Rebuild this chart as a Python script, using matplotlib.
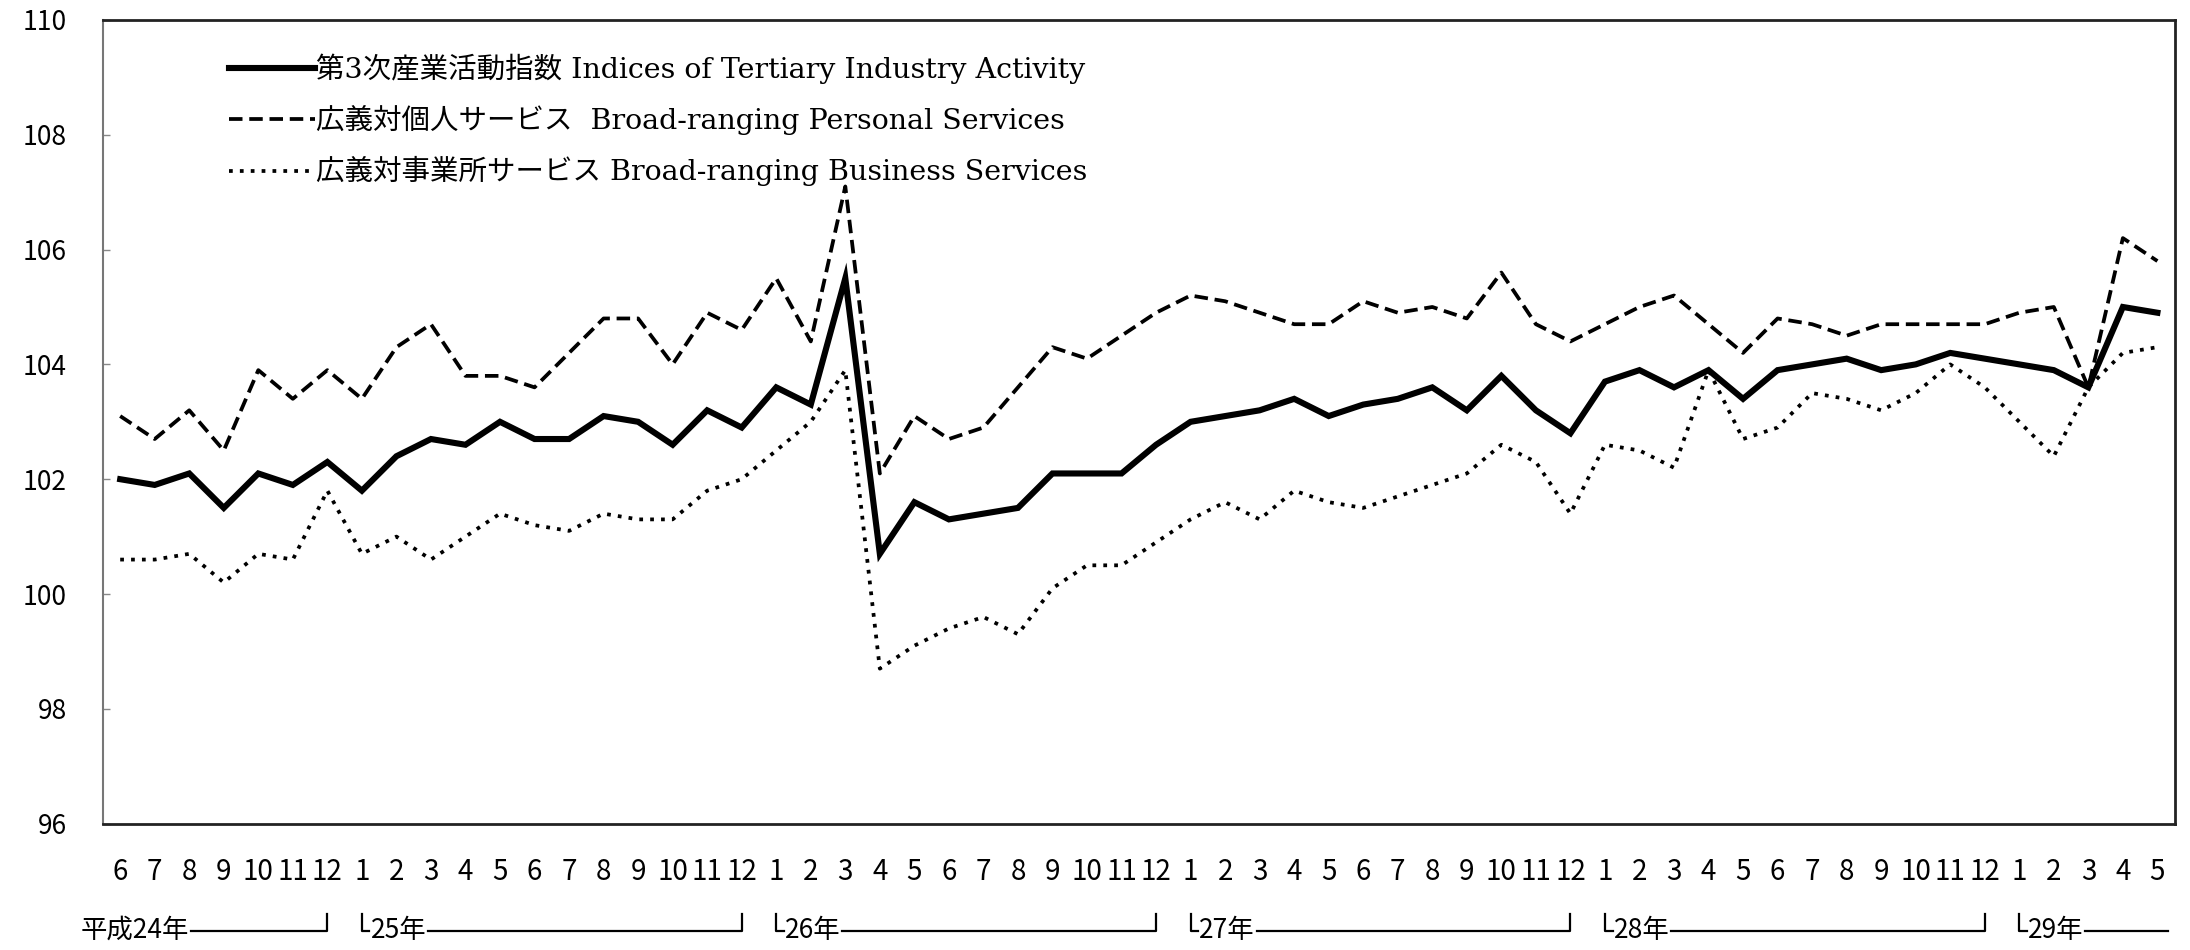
import matplotlib
matplotlib.use("Agg")
import matplotlib.pyplot as plt
import matplotlib.transforms as mtransforms

plt.rcParams["font.family"] = ["Noto Sans CJK JP", "DejaVu Sans"]

# months shown on the x axis (H24.6 - H29.5)
months = [6, 7, 8, 9, 10, 11, 12] + list(range(1, 13)) * 4 + [1, 2, 3, 4, 5]
month_labels = [str(m) for m in months]

# (label, first index, last index) of each Heisei year
years = [("平成24年", 0, 6), ("25年", 7, 18), ("26年", 19, 30),
         ("27年", 31, 42), ("28年", 43, 54), ("29年", 55, 59)]

tertiary = [102.0, 101.9, 102.1, 101.5, 102.1, 101.9, 102.3,
            101.8, 102.4, 102.7, 102.6, 103.0, 102.7, 102.7, 103.1, 103.0, 102.6, 103.2, 102.9,
            103.6, 103.3, 105.5, 100.7, 101.6, 101.3, 101.4, 101.5, 102.1, 102.1, 102.1, 102.6,
            103.0, 103.1, 103.2, 103.4, 103.1, 103.3, 103.4, 103.6, 103.2, 103.8, 103.2, 102.8,
            103.7, 103.9, 103.6, 103.9, 103.4, 103.9, 104.0, 104.1, 103.9, 104.0, 104.2, 104.1,
            104.0, 103.9, 103.6, 105.0, 104.9]
personal = [103.1, 102.7, 103.2, 102.5, 103.9, 103.4, 103.9,
            103.4, 104.3, 104.7, 103.8, 103.8, 103.6, 104.2, 104.8, 104.8, 104.0, 104.9, 104.6,
            105.5, 104.4, 107.1, 102.1, 103.1, 102.7, 102.9, 103.6, 104.3, 104.1, 104.5, 104.9,
            105.2, 105.1, 104.9, 104.7, 104.7, 105.1, 104.9, 105.0, 104.8, 105.6, 104.7, 104.4,
            104.7, 105.0, 105.2, 104.7, 104.2, 104.8, 104.7, 104.5, 104.7, 104.7, 104.7, 104.7,
            104.9, 105.0, 103.6, 106.2, 105.8]
business = [100.6, 100.6, 100.7, 100.2, 100.7, 100.6, 101.8,
            100.7, 101.0, 100.6, 101.0, 101.4, 101.2, 101.1, 101.4, 101.3, 101.3, 101.8, 102.0,
            102.5, 103.0, 103.9, 98.7, 99.1, 99.4, 99.6, 99.3, 100.1, 100.5, 100.5, 100.9,
            101.3, 101.6, 101.3, 101.8, 101.6, 101.5, 101.7, 101.9, 102.1, 102.6, 102.3, 101.4,
            102.6, 102.5, 102.2, 103.9, 102.7, 102.9, 103.5, 103.4, 103.2, 103.5, 104.0, 103.6,
            103.0, 102.4, 103.6, 104.2, 104.3]

labels = ["第3次産業活動指数 Indices of Tertiary Industry Activity",
          "広義対個人サービス  Broad-ranging Personal Services",
          "広義対事業所サービス Broad-ranging Business Services"]

fig = plt.figure(figsize=(21.9, 9.5), dpi=100)
ax = fig.add_axes([0.047, 0.133, 0.946, 0.846])

x = list(range(len(months)))
ax.plot(x, tertiary, color="black", lw=4.4, solid_joinstyle="miter", label=labels[0])
ax.plot(x, personal, color="black", lw=2.7, dashes=(3.6, 1.8), dash_capstyle="butt", label=labels[1])
ax.plot(x, business, color="black", lw=2.7, dashes=(1.0, 1.9), dash_capstyle="butt", label=labels[2])

ax.set_xlim(-0.5, len(months) - 0.5)
ax.set_ylim(96, 110)
ax.set_yticks(range(96, 111, 2))
ax.tick_params(axis="y", direction="in", length=5, width=1, color="#888888",
               labelsize=19, pad=26)
ax.set_xticks(x)
ax.set_xticklabels(month_labels)
ax.tick_params(axis="x", length=0, labelsize=20, pad=24)

for side in ["top", "right", "bottom"]:
    ax.spines[side].set_linewidth(2)
    ax.spines[side].set_color("#222222")
ax.spines["left"].set_linewidth(1.5)
ax.spines["left"].set_color("#777777")

leg = ax.legend(loc="upper left", bbox_to_anchor=(0.061, 0.958), frameon=False,
                handlelength=3.0, handletextpad=0.05, labelspacing=0.74,
                borderpad=0, borderaxespad=0,
                prop={"family": ["DejaVu Serif", "Noto Sans CJK JP"], "size": 20.5})

# year row under the month labels
trans = mtransforms.blended_transform_factory(ax.transData, ax.transAxes)
y_row = -0.133
tick_h = 0.02
fig.canvas.draw()
inv = ax.transData.inverted()
for name, i0, i1 in years:
    if i0 == 0:
        tx = -1.15
    else:
        ax.plot([i0, i0, i0 + 0.22], [y_row + tick_h, y_row, y_row], color="black",
                lw=1.6, transform=trans, clip_on=False)
        tx = i0 + 0.25
    t = ax.text(tx, y_row, name, transform=trans, ha="left", va="center",
                fontsize=19, clip_on=False)
    fig.canvas.draw()
    bb = t.get_window_extent()
    x_end = inv.transform((bb.x1, 0))[0]
    if i1 == 59:
        ax.plot([x_end + 0.05, 59.3], [y_row, y_row], color="black", lw=1.6,
                transform=trans, clip_on=False)
    else:
        ax.plot([x_end + 0.05, i1, i1], [y_row, y_row, y_row + tick_h], color="black",
                lw=1.6, transform=trans, clip_on=False)

fig.savefig("out.png", dpi=100)
